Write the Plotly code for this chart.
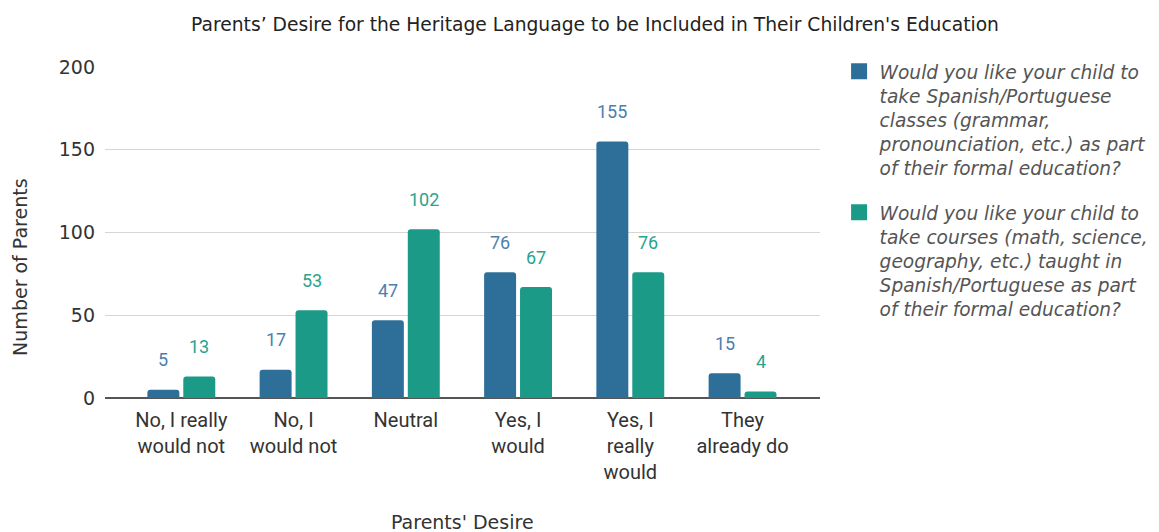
import plotly.graph_objects as go

categories = ["No, I really<br>would not", "No, I<br>would not", "Neutral",
              "Yes, I<br>would", "Yes, I<br>really<br>would", "They<br>already do"]
language_classes = [5, 17, 47, 76, 155, 15]
taught_courses = [13, 53, 102, 67, 76, 4]
series_names = [
    "Would you like your child to<br>take Spanish/Portuguese<br>classes (grammar,<br>pronounciation, etc.) as part<br>of their formal education?",
    "Would you like your child to<br>take courses (math, science,<br>geography, etc.) taught in<br>Spanish/Portuguese as part<br>of their formal education?",
]
y_ticks = [0, 50, 100, 150, 200]

BLUE = "#2d6f99"
GREEN = "#1a9a87"
BLUE_TXT = "#4a80b0"
GREEN_TXT = "#27a48f"

fig = go.Figure()
annotations = []
for vals, color, tcolor, shift in [(language_classes, BLUE, BLUE_TXT, -18), (taught_courses, GREEN, GREEN_TXT, 18)]:
    fig.add_trace(go.Bar(
        x=categories, y=vals, marker=dict(color=color, line=dict(width=0), cornerradius=3),
        showlegend=False, hoverinfo="y",
    ))
    for c, v in zip(categories, vals):
        annotations.append(dict(
            x=c, y=v, xref="x", yref="y", text=str(v), showarrow=False,
            xanchor="center", yanchor="middle", xshift=shift, yshift=30,
            font=dict(family="Roboto", size=18, color=tcolor),
        ))
for i, (name, color) in enumerate(zip(series_names, [BLUE, GREEN])):
    fig.add_trace(go.Scatter(
        x=[None], y=[None], mode="markers", name=name, legendgroup=f"g{i}",
        marker=dict(symbol="square", size=16, color=color, line=dict(width=0)),
    ))

annotations += [
    dict(text="Number of Parents", textangle=-90, xref="paper", yref="paper",
         x=-0.118, y=0.395, showarrow=False, xanchor="center", yanchor="middle",
         font=dict(family="DejaVu Sans", size=19, color="#333")),
    dict(text="Parents' Desire", xref="paper", yref="paper", x=0.5, y=-0.375,
         showarrow=False, xanchor="center", yanchor="middle",
         font=dict(family="DejaVu Sans", size=19, color="#333")),
]

fig.update_layout(
    width=1159, height=532,
    margin=dict(l=97, r=347, t=59, b=142, autoexpand=False),
    paper_bgcolor="white", plot_bgcolor="white",
    barmode="group", bargap=0.36, bargroupgap=0.11,
    title=dict(text="Parents’ Desire for the Heritage Language to be Included in Their Children's Education",
               x=0.5065, xanchor="center", y=0.97, yanchor="middle", xref="container", yref="container",
               font=dict(family="DejaVu Sans", size=18.7, color="#222")),
    legend=dict(x=1.026, xanchor="left", y=1.043, yanchor="top", valign="top",
                itemsizing="trace", tracegroupgap=17, itemwidth=31, maxheight=600,
                font=dict(family="DejaVu Sans", size=18.6, color="#555", style="italic")),
    xaxis=dict(range=[-0.68, 5.69], showgrid=False, showline=False, ticks="",
               tickfont=dict(family="Roboto", size=20, color="#333"), ticklabelstandoff=8),
    yaxis=dict(range=[0, 200], tickvals=y_ticks, showgrid=True, gridcolor="#d6d6d6", gridwidth=1,
               zeroline=True, zerolinecolor="#555", zerolinewidth=2, showline=False, ticks="",
               tickfont=dict(family="DejaVu Sans", size=19, color="#333"), ticklabelstandoff=9),
    annotations=annotations,
)

fig.write_html("out.html")
